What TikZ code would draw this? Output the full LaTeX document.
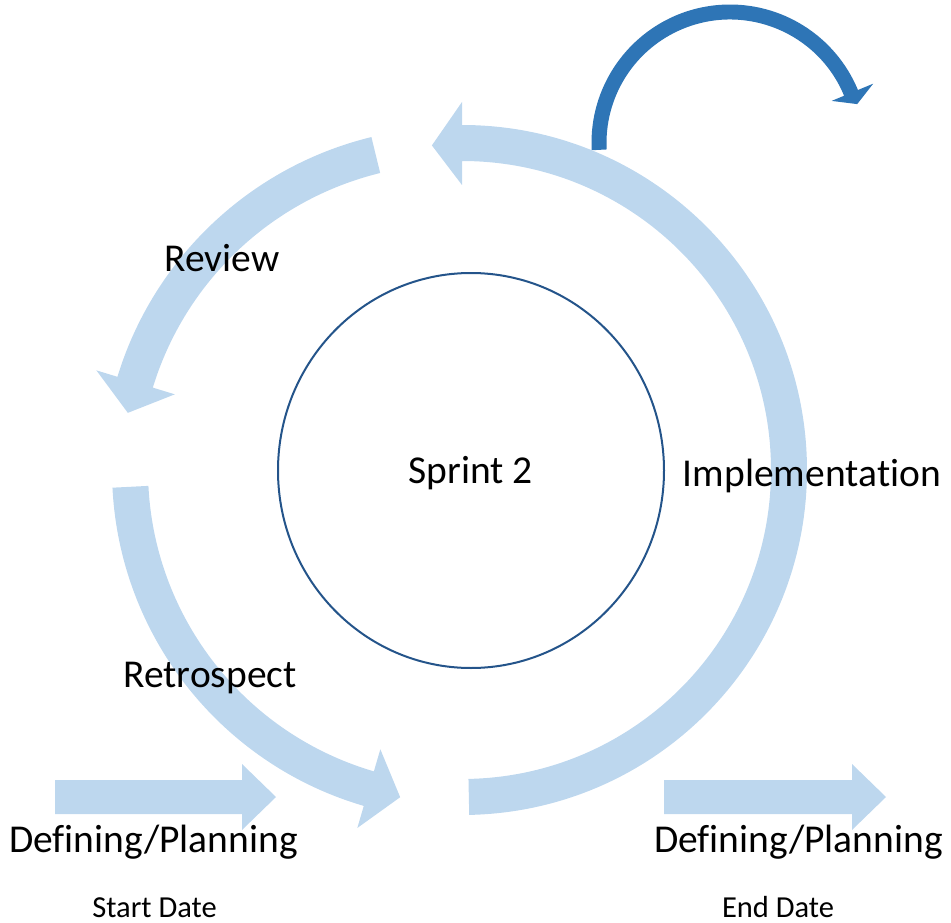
\documentclass[tikz,border=0pt]{standalone}
\usepackage{fontspec}
\setmainfont{Carlito}[RawFeature={-liga;-dlig;-clig}]
\definecolor{lb}{HTML}{BDD7EE}
\definecolor{db}{HTML}{2E75B6}
\definecolor{navy}{HTML}{24548A}
\tikzset{
  band/.style={fill=lb},
  darkband/.style={fill=db},
  ring/.style={draw=navy, line width=2pt},
  big/.style={anchor=base, inner sep=0pt, font=\fontsize{39.5}{46}\selectfont},
  small/.style={anchor=base, inner sep=0pt, font=\fontsize{30.5}{35}\selectfont}
}
\begin{document}
\begin{tikzpicture}[x=1pt, y=-1pt]
\useasboundingbox (0,0) rectangle (951,923);
% dark blue curved arrow
\begin{scope}[shift={(730,143)}]
\fill[darkband] (177:138.5) arc[start angle=177, end angle=337.5, radius=138.5]
  -- (337.5:155) -- (343:133) -- (337.5:110) -- (337.5:123.5)
  arc[start angle=337.5, end angle=177, radius=123.5] -- cycle;
\end{scope}
% right arc (Implementation)
\begin{scope}[shift={(462,470)}]
\fill[band] (88.8:345) arc[start angle=88.8, end angle=-90, radius=345]
  -- (-90:368) -- (-95.3:326) -- (-90:285) -- (-90:309)
  arc[start angle=-90, end angle=88.8, radius=309] -- cycle;
% left-bottom arc (Retrospect)
\fill[band] (177.1:350) arc[start angle=177.1, end angle=106.3, radius=350]
  -- (106.3:373) -- (100.7:333) -- (106.3:291) -- (106.3:314)
  arc[start angle=106.3, end angle=177.1, radius=314] -- cycle;
\end{scope}
% left-top arc (Review)
\begin{scope}[shift={(455,480)}]
\fill[band] (-103.7:353) arc[start angle=-103.7, end angle=-163, radius=353]
  -- (-163:375) -- (-168.4:334) -- (-163:293) -- (-163:316)
  arc[start angle=-163, end angle=-103.7, radius=316] -- cycle;
\end{scope}
% straight arrows
\fill[band] (55,780) -- (242,780) -- (242,764) -- (276,797) -- (242,830) -- (242,814) -- (55,814) -- cycle;
\fill[band] (664,780) -- (852,780) -- (852,764) -- (886,797) -- (852,830) -- (852,814) -- (664,814) -- cycle;
% centre circle
\draw[ring] (471,470.5) ellipse [x radius=193, y radius=197.5];
% labels
\node[big] (sprint) at (470.5,483) {Sprint 2};
\node[big] (review) at (222,271) {Review};
\node[big] (impl) at (812,486) {Implementa\kern0pt tion};
\node[big] (retro) at (210,687) {Retrospect};
\node[big] (defL) at (153.5,852) {Defining/Planning};
\node[big] (defR) at (798.5,852) {Defining/Planning};
\node[small] (start) at (154.5,917) {Start Date};
\node[small] (end) at (778,917) {End Date};
\end{tikzpicture}
\end{document}
